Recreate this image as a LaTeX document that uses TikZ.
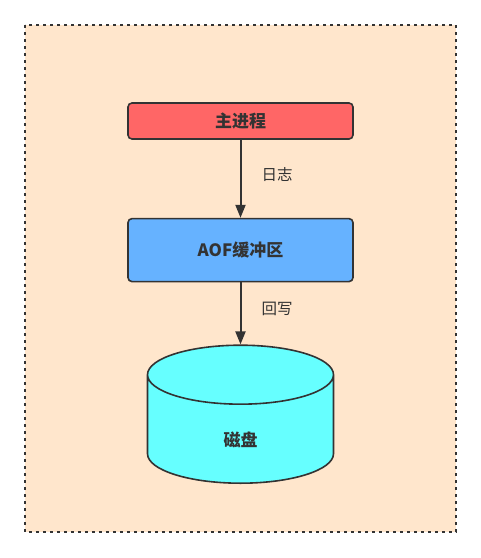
\documentclass[tikz,border=0pt]{standalone}
\usepackage{fontspec}
\newfontfamily\cjk{Noto Sans CJK SC}
\usetikzlibrary{shapes.geometric, arrows.meta, positioning}
\definecolor{bgorange}{HTML}{FFE6CC}
\definecolor{boxred}{HTML}{FF6666}
\definecolor{boxblue}{HTML}{66B2FF}
\definecolor{diskcyan}{HTML}{66FFFF}
\definecolor{linegray}{HTML}{333333}
\tikzstyle{block} = [rectangle, rounded corners=4pt,
  minimum width=225pt, text centered, draw=linegray, line width=1.6pt,
  text=linegray, font=\cjk\bfseries\fontsize{17}{17}\selectfont]
\tikzstyle{arrow} = [line width=2pt, draw=linegray, fill=linegray,
  -{Triangle[length=13pt,width=10pt]}]
\tikzstyle{lbl} = [text=linegray, font=\cjk\fontsize{15.5}{15.5}\selectfont]

\begin{document}
\begin{tikzpicture}[x=1pt,y=-1pt]
\useasboundingbox (0,0) rectangle (481,558);
\fill[bgorange] (25,25) rectangle (456,532);
\draw[linegray, line width=2pt, dash pattern=on 3pt off 4pt] (25,25) rectangle (456,532);

\node (main) [block, fill=boxred, minimum height=36pt] at (240.5,121) {主进程};
\node (aof) [block, fill=boxblue, minimum height=63pt, below=78pt of main] {AOF缓冲区};
\node (disk) [cylinder, shape border rotate=90, aspect=1.45,
  draw=linegray, line width=1.6pt, fill=diskcyan, text=linegray,
  minimum width=186pt, minimum height=138pt,
  font=\cjk\bfseries\fontsize{17}{17}\selectfont,
  below=62pt of aof] {\raisebox{-13pt}[0pt][0pt]{磁盘}};

\node (log) [lbl] at (277,175) {日志};
\node (back) [lbl] at (277,309) {回写};

\draw [arrow] (main) -- (aof);
\draw [arrow] (aof) -- (disk);

\end{tikzpicture}
\end{document}
